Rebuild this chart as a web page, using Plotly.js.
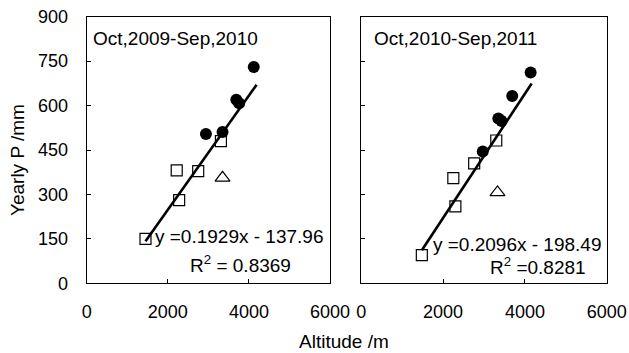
<!DOCTYPE html>
<html>
<head>
<meta charset="utf-8">
<script src="https://cdn.plot.ly/plotly-3.0.1.min.js"></script>
<style>html,body{margin:0;padding:0;background:#fff;}#chart{width:629px;height:353px;}</style>
</head>
<body>
<div id="chart"></div>
<script>
// Panel 1: Oct,2009-Sep,2010
const p1SquareX = [1450, 2280, 2220, 2750, 3310];
const p1SquareY = [150, 281, 381, 379, 480];
const p1TriX = [3350];
const p1TriY = [356];
const p1CircleX = [2940, 3350, 3690, 3760, 4120];
const p1CircleY = [504, 511, 620, 608, 730];
const p1Slope = 0.1929, p1Intercept = -137.96;
const p1LineX = [1450, 4190];

// Panel 2: Oct,2010-Sep,2011
const p2SquareX = [1480, 2300, 2250, 2760, 3300];
const p2SquareY = [95, 260, 355, 405, 482];
const p2TriX = [3330];
const p2TriY = [307];
const p2CircleX = [2970, 3350, 3430, 3690, 4140];
const p2CircleY = [445, 556, 548, 632, 712];
const p2Slope = 0.2096, p2Intercept = -198.49;
const p2LineX = [1480, 4165];

const xTicks = [0, 2000, 4000, 6000];
const yTicks = [0, 150, 300, 450, 600, 750, 900];

const FONT = 'Liberation Sans, Arial, sans-serif';
const W = 629, H = 353;
const px = v => v / W;
const py = v => 1 - v / H;

function panel(sx, sy, tx, ty, cx, cy, lineX, m, b, xa, ya) {
  return [
    {x: lineX, y: lineX.map(v => m * v + b), mode: 'lines', line: {color: '#000', width: 2.6}, xaxis: xa, yaxis: ya, hoverinfo: 'skip'},
    {x: sx, y: sy, mode: 'markers', marker: {symbol: 'square-open', size: 11, color: '#000', line: {width: 1.2}}, xaxis: xa, yaxis: ya},
    {x: tx, y: ty, mode: 'markers', marker: {symbol: 'triangle-up-open', size: 13, color: '#000', line: {width: 1.2}}, xaxis: xa, yaxis: ya},
    {x: cx, y: cy, mode: 'markers', marker: {symbol: 'circle', size: 12, color: '#000'}, xaxis: xa, yaxis: ya}
  ];
}

const data = [].concat(
  panel(p1SquareX, p1SquareY, p1TriX, p1TriY, p1CircleX, p1CircleY, p1LineX, p1Slope, p1Intercept, 'x', 'y'),
  panel(p2SquareX, p2SquareY, p2TriX, p2TriY, p2CircleX, p2CircleY, p2LineX, p2Slope, p2Intercept, 'x2', 'y2')
);

const axBase = {
  showline: true, mirror: true, linecolor: '#000', linewidth: 1,
  ticks: 'inside', ticklen: 4, tickcolor: '#000', tickwidth: 1,
  showgrid: false, zeroline: false, fixedrange: true,
  tickfont: {family: FONT, size: 18, color: '#000'}
};

const annFont = {family: FONT, size: 19, color: '#000'};

const layout = {
  width: W, height: H,
  margin: {l: 0, r: 0, t: 0, b: 0},
  paper_bgcolor: '#fff', plot_bgcolor: '#fff',
  showlegend: false,
  font: {family: FONT, color: '#000'},
  xaxis: Object.assign({}, axBase, {domain: [px(86.7), px(330)], range: [0, 6000], tickvals: xTicks, anchor: 'y', ticklabelstandoff: 12}),
  yaxis: Object.assign({}, axBase, {domain: [py(283.3), py(16.7)], range: [0, 900], tickvals: yTicks, anchor: 'x', ticklabelstandoff: 14}),
  xaxis2: Object.assign({}, axBase, {domain: [px(361.3), px(606.7)], range: [0, 6000], tickvals: xTicks, anchor: 'y2', ticklabelstandoff: 12}),
  yaxis2: Object.assign({}, axBase, {domain: [py(283.3), py(16.7)], range: [0, 900], tickvals: yTicks, anchor: 'x2', showticklabels: false}),
  annotations: [
    {xref: 'x', yref: 'y', x: 2190, y: 828, text: 'Oct,2009-Sep,2010', showarrow: false, xanchor: 'center', yanchor: 'middle', font: annFont},
    {xref: 'x', yref: 'y', x: 3768, y: 158, text: 'y =0.1929x - 137.96', showarrow: false, xanchor: 'center', yanchor: 'middle', font: annFont},
    {xref: 'x', yref: 'y', x: 3800, y: 64, text: 'R<sup>2</sup> = 0.8369', showarrow: false, xanchor: 'center', yanchor: 'middle', font: annFont},
    {xref: 'x2', yref: 'y2', x: 2303, y: 828, text: 'Oct,2010-Sep,2011', showarrow: false, xanchor: 'center', yanchor: 'middle', font: annFont},
    {xref: 'x2', yref: 'y2', x: 3831, y: 131, text: 'y =0.2096x - 198.49', showarrow: false, xanchor: 'center', yanchor: 'middle', font: annFont},
    {xref: 'x2', yref: 'y2', x: 4308, y: 58, text: 'R<sup>2</sup> =0.8281', showarrow: false, xanchor: 'center', yanchor: 'middle', font: annFont},
    {xref: 'paper', yref: 'paper', x: px(344), y: py(341), text: 'Altitude /m', showarrow: false, xanchor: 'center', yanchor: 'middle', font: annFont},
    {xref: 'paper', yref: 'paper', x: px(17), y: py(160), text: 'Yearly P /mm', textangle: -90, showarrow: false, xanchor: 'center', yanchor: 'middle', font: annFont}
  ]
};

Plotly.newPlot('chart', data, layout, {displayModeBar: false, staticPlot: true});
</script>
</body>
</html>
